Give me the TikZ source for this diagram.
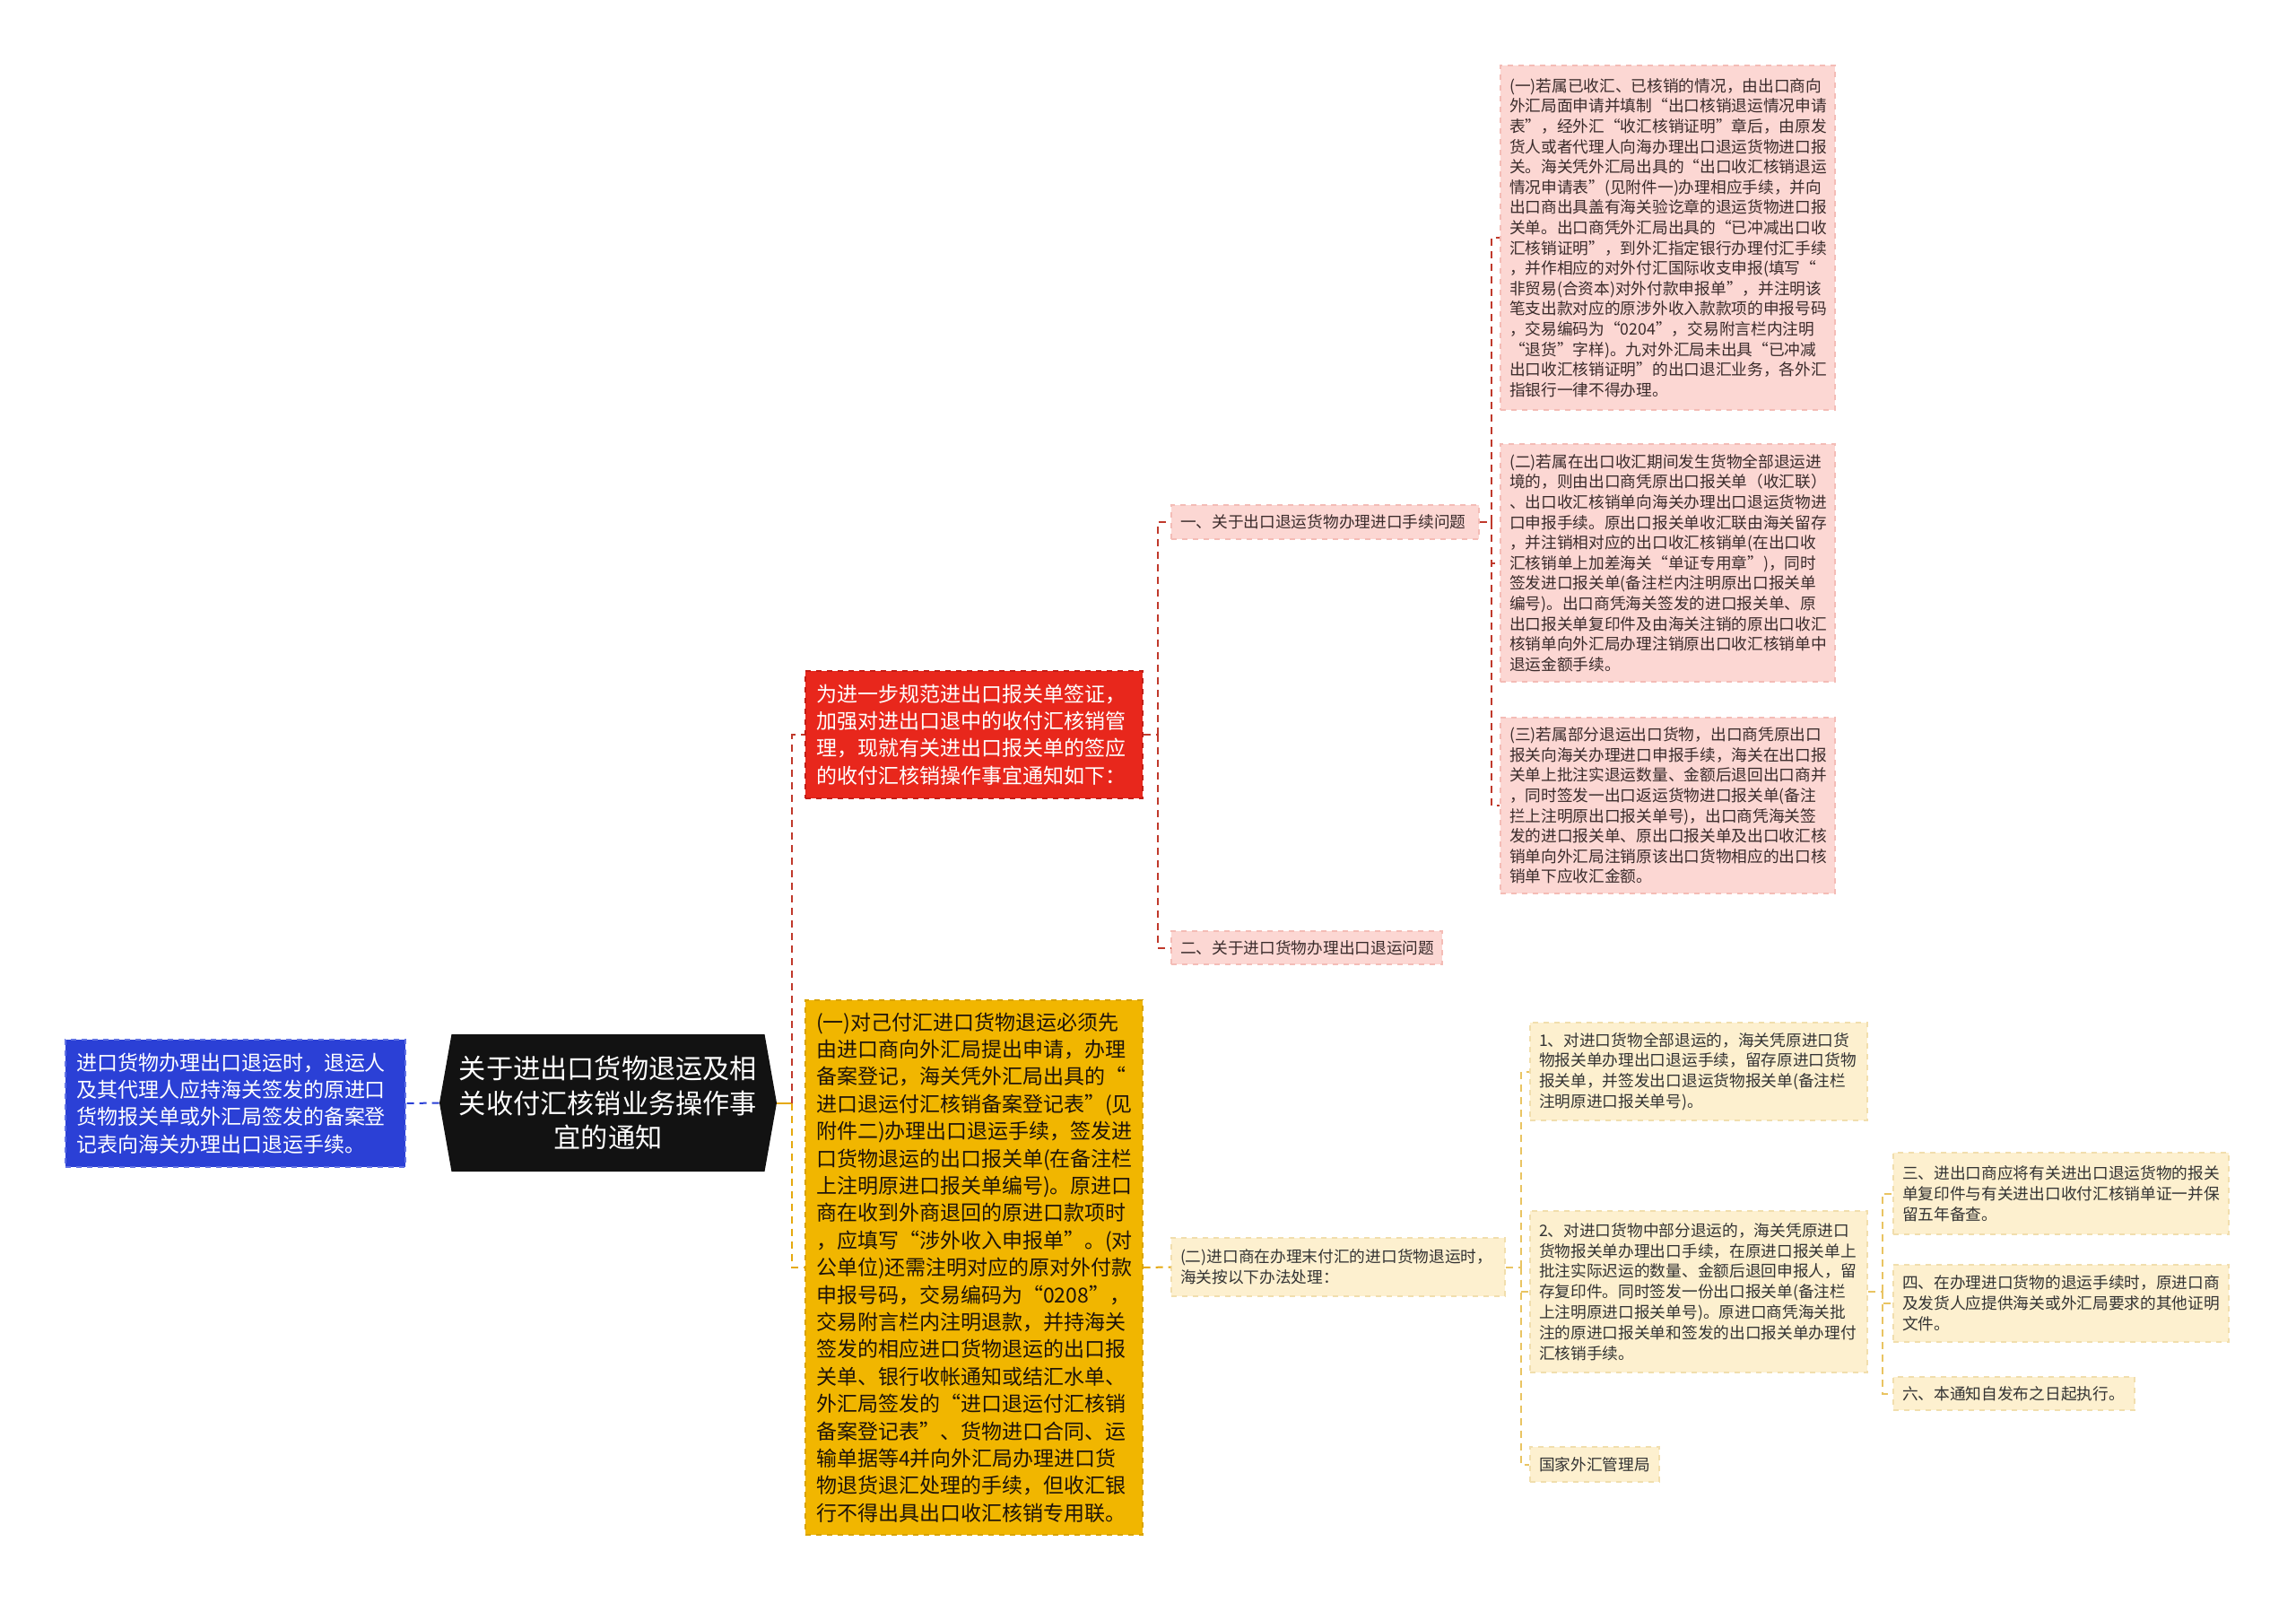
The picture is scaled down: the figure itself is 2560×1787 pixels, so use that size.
\documentclass[tikz,border=0pt]{standalone}
\usepackage{fontspec}
\setmainfont{Noto Sans CJK SC}
\usepackage{tikz}
\usetikzlibrary{shapes.symbols}

\definecolor{pinkfill}{HTML}{FCD7D3}
\definecolor{pinkedge}{HTML}{F4BCB6}
\definecolor{creamfill}{HTML}{FDF0CF}
\definecolor{creamedge}{HTML}{F1DEAD}
\definecolor{redfill}{HTML}{E8271C}
\definecolor{rededge}{HTML}{C31E16}
\definecolor{goldfill}{HTML}{F1B600}
\definecolor{goldedge}{HTML}{D9A300}
\definecolor{bluefill}{HTML}{2B40D6}
\definecolor{blueedge}{HTML}{6172E4}
\definecolor{redwire}{HTML}{C0392B}
\definecolor{goldwire}{HTML}{E5A90E}
\definecolor{creamwire}{HTML}{E9C462}
\definecolor{inkdark}{HTML}{3A2B2B}

\begin{document}
\begin{tikzpicture}[x=0.5pt,y=0.5pt,yscale=-1,
  bigbox/.style={rectangle, align=left, inner xsep=6pt, inner ysep=0pt, dashed, line width=0.6pt,
    font=\fontsize{11.5pt}{15.2pt}\selectfont},
  pinkbox/.style={rectangle, align=left, inner xsep=5pt, inner ysep=0pt, fill=pinkfill, draw=pinkedge,
    dashed, line width=0.6pt, text=inkdark, font=\fontsize{8.85pt}{11.3pt}\selectfont},
  creambox/.style={rectangle, align=left, inner xsep=5pt, inner ysep=0pt, fill=creamfill, draw=creamedge,
    dashed, line width=0.6pt, text=black!80, font=\fontsize{8.85pt}{11.4pt}\selectfont},
  redline/.style={draw=redwire, line width=1pt, dash pattern=on 4pt off 3pt},
  goldline/.style={draw=goldwire, line width=1pt, dash pattern=on 4pt off 3pt},
  creamline/.style={draw=creamwire, line width=1pt, dash pattern=on 4pt off 3pt},
  blueline/.style={draw=bluefill, line width=1pt, dash pattern=on 4pt off 3pt}]
\useasboundingbox (0,0) rectangle (2560,1787);

% Root
\node [signal, signal to=east and west, signal pointer angle=160, fill=black!93, text=white, align=center,
  minimum width=188pt, minimum height=76.5pt, inner sep=0pt, font=\fontsize{15.1pt}{19.2pt}\selectfont]
  (hex) at (678,1229.5) {关于进出口货物退运及相\\关收付汇核销业务操作事\\宜的通知};

% Left note
\node [bigbox, fill=bluefill, draw=blueedge, text=white, minimum width=189.5pt, minimum height=71pt,
  text width=177.5pt] (blue) at (262.5,1230)
  {进口货物办理出口退运时，退运人\\及其代理人应持海关签发的原进口\\货物报关单或外汇局签发的备案登\\记表向海关办理出口退运手续。};

% Text Node
\node [bigbox, fill=redfill, draw=rededge, text=white, minimum width=188pt, minimum height=71pt,
  text width=176pt] (red) at (1086,819)
  {为进一步规范进出口报关单签证，\\加强对进出口退中的收付汇核销管\\理，现就有关进出口报关单的签应\\的收付汇核销操作事宜通知如下：};

% Text Node
\node [bigbox, fill=goldfill, draw=goldedge, text=black!85!brown, minimum width=188pt, minimum height=298pt,
  text width=176pt] (gold) at (1086,1413)
  {(一)对己付汇进口货物退运必须先\\由进口商向外汇局提出申请，办理\\备案登记，海关凭外汇局出具的“\\进口退运付汇核销备案登记表”(见\\附件二)办理出口退运手续，签发进\\口货物退运的出口报关单(在备注栏\\上注明原进口报关单编号)。原进口\\商在收到外商退回的原进口款项时\\，应填写“涉外收入申报单”。(对\\公单位)还需注明对应的原对外付款\\申报号码，交易编码为“0208”，\\交易附言栏内注明退款，并持海关\\签发的相应进口货物退运的出口报\\关单、银行收帐通知或结汇水单、\\外汇局签发的“进口退运付汇核销\\备案登记表”、货物进口合同、运\\输单据等4并向外汇局办理进口货\\物退货退汇处理的手续，但收汇银\\行不得出具出口收汇核销专用联。};

% Text Node
\node [pinkbox, minimum width=171.5pt, minimum height=19pt, text width=161.5pt] (ex1) at (1477.5,582)
  {一、关于出口退运货物办理进口手续问题};
\node [pinkbox, minimum width=151pt, minimum height=18.5pt, text width=141pt] (ex2) at (1457,1056.5)
  {二、关于进口货物办理出口退运问题};

% Text Node
\node [pinkbox, minimum width=186.5pt, minimum height=192pt, text width=176.5pt] (pa) at (1859.5,265)
  {(一)若属已收汇、已核销的情况，由出口商向\\外汇局面申请并填制“出口核销退运情况申请\\表”，经外汇“收汇核销证明”章后，由原发\\货人或者代理人向海办理出口退运货物进口报\\关。海关凭外汇局出具的“出口收汇核销退运\\情况申请表”(见附件一)办理相应手续，并向\\出口商出具盖有海关验讫章的退运货物进口报\\关单。出口商凭外汇局出具的“已冲减出口收\\汇核销证明”，到外汇指定银行办理付汇手续\\，并作相应的对外付汇国际收支申报(填写“\\非贸易(合资本)对外付款申报单”，并注明该\\笔支出款对应的原涉外收入款款项的申报号码\\，交易编码为“0204”，交易附言栏内注明\\“退货”字样)。九对外汇局未出具“已冲减\\出口收汇核销证明”的出口退汇业务，各外汇\\指银行一律不得办理。};
\node [pinkbox, minimum width=186.5pt, minimum height=132.5pt, text width=176.5pt] (pb) at (1859.5,627.5)
  {(二)若属在出口收汇期间发生货物全部退运进\\境的，则由出口商凭原出口报关单（收汇联）\\、出口收汇核销单向海关办理出口退运货物进\\口申报手续。原出口报关单收汇联由海关留存\\，并注销相对应的出口收汇核销单(在出口收\\汇核销单上加差海关“单证专用章”)，同时\\签发进口报关单(备注栏内注明原出口报关单\\编号)。出口商凭海关签发的进口报关单、原\\出口报关单复印件及由海关注销的原出口收汇\\核销单向外汇局办理注销原出口收汇核销单中\\退运金额手续。};
\node [pinkbox, minimum width=186.5pt, minimum height=98pt, text width=176.5pt] (pc) at (1859.5,898)
  {(三)若属部分退运出口货物，出口商凭原出口\\报关向海关办理进口申报手续，海关在出口报\\关单上批注实退运数量、金额后退回出口商并\\，同时签发一出口返运货物进口报关单(备注\\拦上注明原出口报关单号)，出口商凭海关签\\发的进口报关单、原出口报关单及出口收汇核\\销单向外汇局注销原该出口货物相应的出口核\\销单下应收汇金额。};

% Text Node
\node [creambox, minimum width=186pt, minimum height=32.5pt, text width=176pt] (im) at (1492,1412.5)
  {(二)进口商在办理末付汇的进口货物退运时，\\海关按以下办法处理：};

% Text Node
\node [creambox, minimum width=188pt, minimum height=54.5pt, text width=178pt] (ia) at (1894,1194.5)
  {1、对进口货物全部退运的，海关凭原进口货\\物报关单办理出口退运手续，留存原进口货物\\报关单，并签发出口退运货物报关单(备注栏\\注明原进口报关单号)。};
\node [creambox, minimum width=188pt, minimum height=90pt, text width=178pt] (ib) at (1894,1440)
  {2、对进口货物中部分退运的，海关凭原进口\\货物报关单办理出口手续，在原进口报关单上\\批注实际迟运的数量、金额后退回申报人，留\\存复印件。同时签发一份出口报关单(备注栏\\上注明原进口报关单号)。原进口商凭海关批\\注的原进口报关单和签发的出口报关单办理付\\汇核销手续。};
\node [creambox, minimum width=72pt, minimum height=19.5pt, text width=62pt] (ic) at (1778,1632.5)
  {国家外汇管理局};

% Text Node
\node [creambox, minimum width=187pt, minimum height=45.5pt, text width=177pt] (ka) at (2298,1330.5)
  {三、进出口商应将有关进出口退运货物的报关\\单复印件与有关进出口收付汇核销单证一并保\\留五年备查。};
\node [creambox, minimum width=187pt, minimum height=43pt, text width=177pt] (kb) at (2298,1453)
  {四、在办理进口货物的退运手续时，原进口商\\及发货人应提供海关或外汇局要求的其他证明\\文件。};
\node [creambox, minimum width=134.5pt, minimum height=18.5pt, text width=124.5pt] (kc) at (2245.5,1553.5)
  {六、本通知自发布之日起执行。};

%Connectors
\draw [blueline] (hex.west) -- (blue.east);
\draw [draw=goldwire, line width=1pt] (hex.east) -- ++(17,0) coordinate (t0);
\draw [redline] (t0) |- (red.west);
\draw [goldline] (t0) |- (gold.west);

\draw [redline] (red.east) -- ++(16,0) coordinate (t1);
\draw [redline] (t1) |- (ex1.west);
\draw [redline] (t1) |- (ex2.west);

\draw [redline] (ex1.east) -- ++(13,0) coordinate (t2);
\draw [redline] (t2) |- (pa.west);
\draw [redline] (t2) |- (pb.west);
\draw [redline] (t2) |- (pc.west);

\draw [goldline] (gold.east) -- (im.west);

\draw [creamline] (im.east) -- ++(17,0) coordinate (t3);
\draw [creamline] (t3) |- (ia.west);
\draw [creamline] (t3) |- (ib.west);
\draw [creamline] (t3) |- (ic.west);

\draw [creamline] (ib.east) -- ++(16,0) coordinate (t4);
\draw [creamline] (t4) |- (ka.west);
\draw [creamline] (t4) |- (kb.west);
\draw [creamline] (t4) |- (kc.west);

\end{tikzpicture}
\end{document}
